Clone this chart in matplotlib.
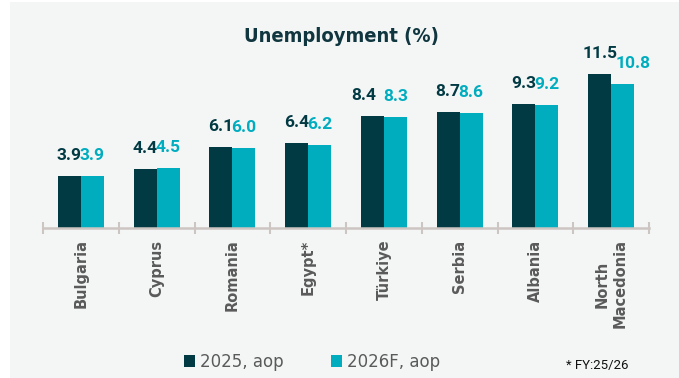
import numpy as np
import matplotlib.pyplot as plt
from matplotlib.patches import Rectangle

countries = ['Bulgaria', 'Cyprus', 'Romania', 'Egypt*', 'Türkiye', 'Serbia', 'Albania', 'North\nMacedonia']
unemp_2025 = [3.9, 4.4, 6.1, 6.4, 8.4, 8.7, 9.3, 11.5]
unemp_2026 = [3.9, 4.5, 6.0, 6.2, 8.3, 8.6, 9.2, 10.8]
series_names = ['2025, aop', '2026F, aop']

DARK = '#023A44'
CYAN = '#00ADBF'
BG = '#F4F6F6'
GREY = '#5A5A5A'

# hand-placed labels in the original (pixel nudges)
nudge = {(0, 4): -9, (1, 7): 10}

fig = plt.figure(figsize=(6.79, 3.78), dpi=100)
fig.patch.set_facecolor('white')
fig.add_artist(Rectangle((10 / 679, 0), 1, 1 - 2 / 378, transform=fig.transFigure,
                         facecolor=BG, edgecolor='none', zorder=0))

ax = fig.add_axes([43 / 679, 0.396, 606 / 679, 0.443])
ax.set_facecolor('none')

x = np.arange(len(countries))
w = 0.305
b1 = ax.bar(x - w / 2, unemp_2025, w, color=DARK, label=series_names[0])
b2 = ax.bar(x + w / 2, unemp_2026, w, color=CYAN, label=series_names[1])

for si, (bars, vals, col) in enumerate([(b1, unemp_2025, DARK), (b2, unemp_2026, CYAN)]):
    for i, (r, v) in enumerate(zip(bars, vals)):
        dx = nudge.get((si, i), 0) * 0.72
        ax.annotate(f'{v:.1f}', (r.get_x() + r.get_width() / 2, v), xytext=(dx, 11.5),
                    textcoords='offset points', ha='center', va='baseline',
                    fontsize=12.5, fontweight='bold', color=col, family='Roboto',
                    annotation_clip=False)

ax.set_xlim(-0.5, len(countries) - 0.5)
ax.set_ylim(0, 12.5)
ax.set_yticks([])
for s in ['top', 'right', 'left']:
    ax.spines[s].set_visible(False)
ax.spines['bottom'].set_color('#CDC5C2')
ax.spines['bottom'].set_linewidth(1.8)

ax.set_xticks(x)
ax.set_xticklabels(countries, rotation=90, fontsize=10.5, fontweight='bold', color=GREY,
                   va='top', ha='center')
ax.tick_params(axis='x', which='major', length=0, pad=8)
ax.set_xticks(np.arange(len(countries) + 1) - 0.5, minor=True)
ax.tick_params(axis='x', which='minor', direction='inout', length=8, width=1.5, color='#CDC5C2')

fig.text(341 / 679, 1 - 42 / 378, 'Unemployment (%)', ha='center', va='baseline',
         fontsize=14.5, fontweight='bold', color='#10363F', family='DejaVu Sans',
         fontstretch='condensed')

fig.legend(handles=[b1, b2], loc='center', bbox_to_anchor=(312 / 679, 16 / 378), ncol=2,
           frameon=False, fontsize=12, labelcolor=GREY, handlelength=0.7, handleheight=0.7,
           handletextpad=0.3, columnspacing=2.8)

fig.text(597 / 679, 1 - 365 / 378, '* FY:25/26', ha='center', va='center', fontsize=9.5,
         color='#111111', family='Roboto')

fig.savefig('out.png', dpi=100, facecolor=fig.get_facecolor())
